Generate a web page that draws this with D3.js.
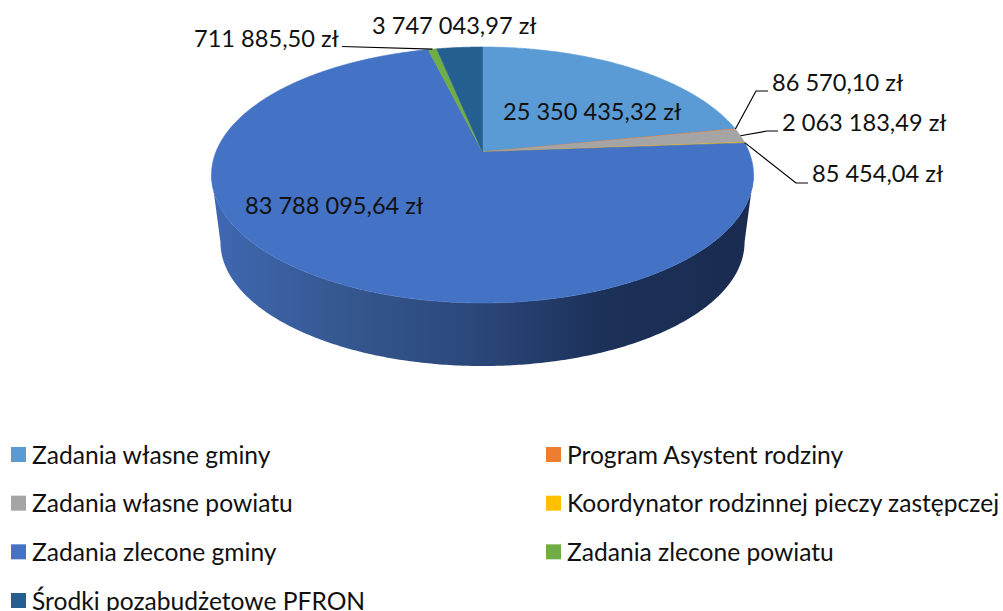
<!DOCTYPE html>
<meta charset="utf-8">
<style>
	html, body { margin: 0; padding: 0; background: #fff; overflow: hidden; }
	text { font-family: Lato, "Noto Sans", sans-serif; fill: #111; }
</style>
<svg width="1003" height="611"></svg>
<script src="https://d3js.org/d3.v7.min.js"></script>
<script>
	var categories = ['Zadania własne gminy', 'Program Asystent rodziny', 'Zadania własne powiatu',
		'Koordynator rodzinnej pieczy zastępczej', 'Zadania zlecone gminy', 'Zadania zlecone powiatu',
		'Środki pozabudżetowe PFRON']
	var values = [25350435.32, 86570.10, 2063183.49, 85454.04, 83788095.64, 711885.50, 3747043.97]
	var colors = ['#5b9bd5', '#ed7d31', '#a5a5a5', '#ffc000', '#4472c4', '#70ad47', '#255e91']

	// label placement, same order as values: text start x, text middle y
	var labelX = [503, 772, 782, 812, 245, 194, 372]
	var labelY = [111, 82, 122, 173, 205, 38, 25]
	// leader line after the slice anchor, null = no leader
	var leaders = [null, [[756, 91], [768, 91]], [[767, 131], [778, 131]], [[796, 183], [808, 183]], null, [[342, 46.5]], null]

	var svg = d3.select('svg')
	var defs = svg.append('defs')

	var zl = d3.formatLocale({ decimal: ',', thousands: ' ', grouping: [3], currency: ['', ' zł'] }).format('$,.2f')

	// the pie is tilted with perspective, so the centre sits above the middle of the ellipse
	var cx = 482.5, cy = 152, upR = 105, downR = 151, halfW = 271
	var k = (downR - upR) / (downR + upR)
	var B = downR * (1 - k)
	var A = halfW * Math.sqrt(1 - k * k)
	var depth = 68, shrink = 0.967

	function project(a) {
		var u = Math.sin(a), v = -Math.cos(a), w = 1 - k * v
		return [A * u / w, B * v / w]
	}
	function topPoint(a) {
		var p = project(a)
		return [cx + p[0], cy + p[1]]
	}
	function lowPoint(a) {
		var p = project(a)
		return [cx + shrink * p[0], cy + depth + shrink * p[1]]
	}
	function sample(a0, a1) {
		var n = Math.max(2, Math.ceil((a1 - a0) / 0.01))
		return d3.range(n + 1).map(function (i) { return a0 + (a1 - a0) * i / n })
	}

	var pie = d3.pie().sort(null).value(function (d) { return d })
	var slices = pie(values)
	var line = d3.line()

	// visible part of the side wall is between the two widest points of the ellipse
	var sideStart = Math.acos(-k), sideEnd = 2 * Math.PI - sideStart

	var grad = defs.append('linearGradient')
		.attr('id', 'side')
		.attr('gradientUnits', 'userSpaceOnUse')
		.attr('x1', cx - halfW).attr('x2', cx + halfW)
		.attr('y1', 0).attr('y2', 0)
	grad.selectAll('stop')
		.data([[0, '#4068b2'], [0.25, '#35578f'], [0.5, '#2a4679'], [0.72, '#1c3159'], [1, '#1a2b50']])
		.enter().append('stop')
		.attr('offset', function (d) { return d[0] })
		.attr('stop-color', function (d) { return d[1] })

	// side walls
	svg.append('g').selectAll('path')
		.data(slices.filter(function (d) { return d.endAngle > sideStart && d.startAngle < sideEnd }))
		.enter().append('path')
		.attr('fill', 'url(#side)')
		.attr('d', function (d) {
			var a = sample(Math.max(d.startAngle, sideStart), Math.min(d.endAngle, sideEnd))
			return line(a.map(topPoint).concat(a.slice().reverse().map(lowPoint))) + 'Z'
		})

	// top face
	svg.append('g').selectAll('path')
		.data(slices)
		.enter().append('path')
		.attr('fill', function (d, i) { return colors[i] })
		.attr('stroke', function (d, i) { return colors[i] })
		.attr('stroke-width', 0.6)
		.attr('d', function (d) {
			return line([[cx, cy]].concat(sample(d.startAngle, d.endAngle).map(topPoint))) + 'Z'
		})

	// leader lines
	svg.append('g').selectAll('path')
		.data(slices.filter(function (d) { return leaders[d.index] }))
		.enter().append('path')
		.attr('fill', 'none')
		.attr('stroke', '#000')
		.attr('stroke-width', 1.2)
		.attr('d', function (d) {
			return line([topPoint((d.startAngle + d.endAngle) / 2)].concat(leaders[d.index]))
		})

	// value labels
	svg.append('g').selectAll('text')
		.data(values)
		.enter().append('text')
		.attr('x', function (d, i) { return labelX[i] })
		.attr('y', function (d, i) { return labelY[i] })
		.attr('dominant-baseline', 'central')
		.attr('font-size', 23.6)
		.text(function (d) { return zl(d) })

	// legend, the last row runs into the bottom edge like in the original
	var legendX = d3.scaleOrdinal().domain([0, 1]).range([11, 546])
	var legendY = d3.scalePoint().domain([0, 1, 2, 3]).range([454, 600])
	var legend = svg.append('g').selectAll('g')
		.data(categories)
		.enter().append('g')
		.attr('transform', function (d, i) {
			return 'translate(' + legendX(i % 2) + ',' + legendY(Math.floor(i / 2)) + ')'
		})
	legend.append('rect')
		.attr('y', -7)
		.attr('width', 15)
		.attr('height', 15)
		.attr('fill', function (d, i) { return colors[i] })
	legend.append('text')
		.attr('x', 21)
		.attr('dominant-baseline', 'central')
		.attr('font-size', 24.6)
		.text(function (d) { return d })
</script>
